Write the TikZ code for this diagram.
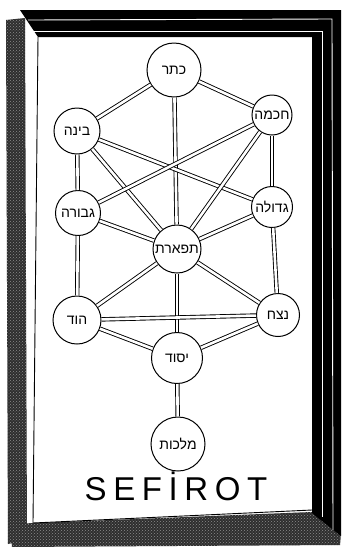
\documentclass[tikz,border=0pt]{standalone}
\usepackage{fontspec}
\setmainfont{Liberation Sans}
\newfontfamily\hebfont[Script=Hebrew]{Liberation Sans}
\newfontfamily\titlefont[LetterSpace=20]{Liberation Sans}
\TeXXeTstate=1
\usetikzlibrary{patterns}
\tikzset{
  sef/.style={circle, draw=black, fill=white, line width=1pt, inner sep=0pt,
    font=\hebfont\fontsize{14}{14}\selectfont},
  link/.style={draw=black, line width=0.9pt, double=white, double distance=2.6pt},
  band/.style={fill=black!82},
  grain/.style={pattern=crosshatch dots, pattern color=black!45},
  stripe/.style={draw=white, line width=0.9pt},
  frameline/.style={draw=black, line width=0.9pt}
}
\begin{document}
\begin{tikzpicture}[x=1pt,y=-1pt]
\useasboundingbox (0,0) rectangle (344,547);
\fill[white] (0,0) rectangle (344,547);
% frame
\fill[band] (6,20) -- (25,18) -- (27,540) -- (8,544) -- cycle;
\fill[grain] (6,20) -- (25,18) -- (27,540) -- (8,544) -- cycle;
\fill[band] (10,524) -- (312,512) -- (341,534) -- (340,545) -- (12,547) -- cycle;
\fill[grain] (10,524) -- (312,512) -- (341,534) -- (340,545) -- (12,547) -- cycle;
\fill[black] (20,10) -- (341,10) -- (341,536) -- (312,513) -- (312,37) -- (38,37) -- cycle;
\draw[stripe] (28,20) -- (332,19) -- (333,530);
\draw[stripe] (33,31) -- (322,31) -- (322,517);
\draw[frameline] (38,37) -- (33,523) -- (312,510);
% nodes
\node[sef, minimum size=54pt] (keter) at (174,70) {\beginR כתר\endR};
\node[sef, minimum size=40pt] (chokhmah) at (272,115) {\beginR חכמה\endR};
\node[sef, minimum size=46pt] (binah) at (77,131) {\beginR בינה\endR};
\node[sef, minimum size=45pt] (gevurah) at (78,213) {\beginR גבורה\endR};
\node[sef, minimum size=41pt] (gedulah) at (272,207) {\beginR גדולה\endR};
\node[sef, minimum size=48pt] (tiferet) at (177,249) {\beginR תפארת\endR};
\node[sef, minimum size=48pt] (hod) at (77,320) {\beginR הוד\endR};
\node[sef, minimum size=43pt] (netzach) at (278,315) {\beginR נצח\endR};
\node[sef, minimum size=51pt] (yesod) at (177,358) {\beginR יסוד\endR};
\node[sef, minimum size=54pt] (malkhut) at (178,444) {\beginR מלכות\endR};
% paths
\draw[link] (keter) -- (chokhmah);
\draw[link] (keter) -- (binah);
\draw[link] (keter) -- (tiferet);
\draw[link] (binah) -- (gevurah);
\draw[link] (binah) -- (gedulah);
\draw[link] (binah) -- (tiferet);
\draw[link] (chokhmah) -- (gevurah);
\draw[link] (chokhmah) -- (tiferet);
\draw[link] (chokhmah) -- (gedulah);
\draw[link] (gevurah) -- (tiferet);
\draw[link] (gedulah) -- (tiferet);
\draw[link] (gevurah) -- (hod);
\draw[link] (gedulah) -- (netzach);
\draw[link] (tiferet) -- (hod);
\draw[link] (tiferet) -- (netzach);
\draw[link] (tiferet) -- (yesod);
\draw[link] (hod) -- (netzach);
\draw[link] (hod) -- (yesod);
\draw[link] (netzach) -- (yesod);
\draw[link] (yesod) -- (malkhut);
% title
\node[font=\titlefont\fontsize{33}{33}\selectfont, inner sep=0pt] (title) at (176,486) {SEFİROT};
\end{tikzpicture}
\end{document}
